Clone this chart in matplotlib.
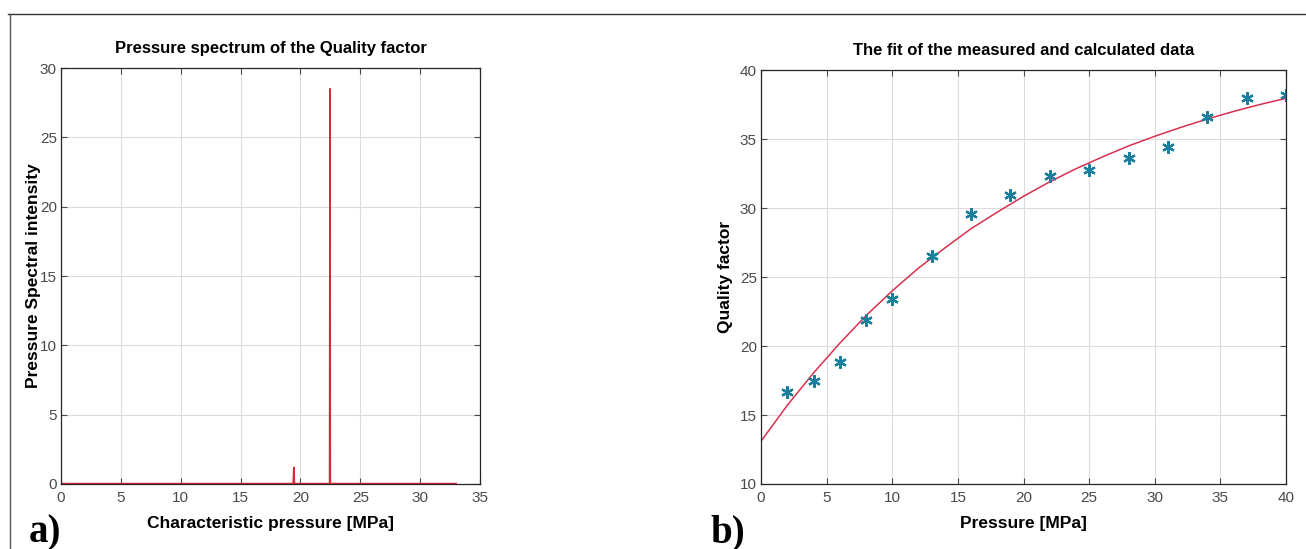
import numpy as np
import matplotlib
matplotlib.use("Agg")
import matplotlib.pyplot as plt
from matplotlib.lines import Line2D

plt.rcParams['font.family'] = ['Liberation Sans', 'DejaVu Sans']

# a) pressure spectrum (read off the picture)
spec_p = [0.0, 19.40, 19.45, 19.50, 22.44, 22.47, 22.50, 33.0]
spec_i = [0.03, 0.03, 1.2, 0.03, 0.03, 28.5, 0.03, 0.03]

# b) measured quality factor
meas_p = [2, 4, 6, 8, 10, 13, 16, 19, 22, 25, 28, 31, 34, 37, 40]
meas_q = [16.65, 17.45, 18.85, 21.85, 23.4, 26.5, 29.55, 30.95, 32.3,
          32.75, 33.6, 34.4, 36.6, 38.0, 38.2]

# b) calculated curve, read every 2 MPa
fit_p = [0, 2, 4, 6, 8, 10, 12, 14, 16, 18, 20, 22, 24, 26, 28, 30, 32, 34, 36, 38, 40]
fit_q = [13.1, 15.7, 18.05, 20.2, 22.2, 24.0, 25.65, 27.1, 28.5, 29.7, 30.85,
         31.9, 32.85, 33.7, 34.5, 35.2, 35.85, 36.45, 37.0, 37.5, 37.95]

tick_col = '#4a4a4a'


def style(ax):
    ax.grid(True, color='#dcdcdc', lw=0.8)
    ax.set_axisbelow(True)
    ax.tick_params(direction='in', top=True, right=True, length=4, pad=5,
                   labelsize=11, colors=tick_col, width=0.8)
    ax.tick_params(axis='y', pad=3)
    for s in ax.spines.values():
        s.set_color('#262626')
        s.set_linewidth(0.9)


fig = plt.figure(figsize=(13.06, 5.49), dpi=100)

ax1 = fig.add_axes([0.0467, 0.1184, 0.3208, 0.7577])
ax1.plot(spec_p, spec_i, color='#d9283a', lw=1.2)
ax1.set_xlim(0, 35)
ax1.set_ylim(0, 30)
ax1.set_xticks(np.arange(0, 36, 5))
ax1.set_yticks(np.arange(0, 31, 5))
style(ax1)
ax1.set_title('Pressure spectrum of the Quality factor', fontsize=12,
              fontweight='bold', pad=11)
ax1.set_xlabel('Characteristic pressure [MPa]', fontsize=12.5,
               fontweight='bold', labelpad=8)
ax1.set_ylabel('Pressure Spectral intensity', fontsize=12.5,
               fontweight='bold', labelpad=-1)

ax2 = fig.add_axes([0.5827, 0.1184, 0.4020, 0.7540])
ax2.plot(fit_p, fit_q, color='#d8304e', lw=1.1)
ax2.plot(meas_p, meas_q, ls='none', marker=(6, 2, 0), ms=9, color='#1b86a3',
         markeredgecolor='#1a7f9c', markeredgewidth=1.6)
ax2.set_xlim(0, 40)
ax2.set_ylim(10, 40)
ax2.set_xticks(np.arange(0, 41, 5))
ax2.set_yticks(np.arange(10, 41, 5))
style(ax2)
ax2.set_title('The fit of the measured and calculated data', fontsize=12,
              fontweight='bold', pad=11)
ax2.set_xlabel('Pressure [MPa]', fontsize=12.5, fontweight='bold', labelpad=8)
ax2.set_ylabel('Quality factor', fontsize=12.5, fontweight='bold', labelpad=5)

# panel letters
fig.text(0.022, 0.012, 'a)', fontsize=28, fontweight='bold',
         family='Liberation Serif')
fig.text(0.544, 0.012, 'b)', fontsize=28, fontweight='bold',
         family='Liberation Serif')

# frame lines at top and left
fig.add_artist(Line2D([0.0065, 1.0], [1 - 14 / 549, 1 - 14 / 549],
                      transform=fig.transFigure, color='#333333', lw=1.0))
fig.add_artist(Line2D([0.0075, 0.0075], [0.0, 1 - 14 / 549],
                      transform=fig.transFigure, color='#555555', lw=1.0))

fig.savefig('out.png', dpi=100)
